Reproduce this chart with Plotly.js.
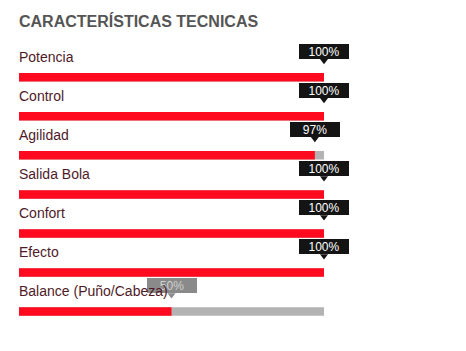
<!DOCTYPE html>
<html>
<head>
<meta charset="utf-8">
<script src="https://cdn.plot.ly/plotly-3.0.1.min.js"></script>
<style>html,body{margin:0;padding:0;background:#fff;}#chart{width:466px;height:351px;}</style>
</head>
<body>
<div id="chart"></div>
<script>
const categories = ["Potencia", "Control", "Agilidad", "Salida Bola", "Confort", "Efecto", "Balance (Puño/Cabeza)"];
const values = [100, 100, 97, 100, 100, 100, 50];
const maxValues = [100, 100, 100, 100, 100, 100, 100];
const tipLabels = ["100%", "100%", "97%", "100%", "100%", "100%", "50%"];
const faded = [false, false, false, false, false, false, true];
const titleText = "CARACTERÍSTICAS TECNICAS";

const W = 466, H = 351;
const rowPx = 39.07, firstCenter = 77.2;
const yTop = -firstCenter / rowPx;
const yBot = (H - firstCenter) / rowPx;
const idx = categories.map((_, i) => i);

const traces = [
  {type: 'bar', orientation: 'h', y: idx, x: maxValues, width: 8.5 / rowPx,
   marker: {color: '#b3b3b3'}, hoverinfo: 'skip'},
  {type: 'bar', orientation: 'h', y: idx, x: values, width: 8.5 / rowPx,
   marker: {color: '#ff0a1e'}, hoverinfo: 'skip'},
  {type: 'scatter', mode: 'markers', x: values, y: idx.map(i => i - 16.5 / rowPx),
   marker: {symbol: 'triangle-down', size: 7, color: faded.map(f => f ? '#8a8a8a' : '#141414')},
   hoverinfo: 'skip', cliponaxis: false}
];

const annotations = [];
idx.forEach(i => {
  annotations.push({
    xref: 'x', yref: 'y', x: values[i], y: i - 25.7 / rowPx,
    xanchor: 'center', yanchor: 'middle', showarrow: false,
    text: tipLabels[i], width: 50, height: 15, borderpad: 0, borderwidth: 0,
    bgcolor: faded[i] ? '#8a8a8a' : '#141414',
    font: {family: 'Liberation Sans, Arial, sans-serif', size: 12, color: faded[i] ? '#d0d0d0' : '#ffffff'}
  });
});
idx.forEach(i => {
  annotations.push({
    xref: 'x', yref: 'y', x: 0, y: i - 20.5 / rowPx,
    xanchor: 'left', yanchor: 'middle', showarrow: false,
    borderpad: 0, borderwidth: 0,
    text: categories[i],
    font: {family: 'Liberation Sans, Arial, sans-serif', size: 14, color: '#4f1a28'}
  });
});

const layout = {
  width: W, height: H,
  margin: {l: 19, r: 142, t: 0, b: 0, pad: 0},
  paper_bgcolor: '#ffffff', plot_bgcolor: '#ffffff',
  showlegend: false, barmode: 'overlay',
  title: {text: '<b>' + titleText + '</b>', x: 19 / W, xanchor: 'left', xref: 'container',
          y: 1 - 21 / H, yanchor: 'middle', yref: 'container',
          font: {family: 'Liberation Sans, Arial, sans-serif', size: 16, color: '#555555'}},
  xaxis: {range: [0, 100], visible: false, fixedrange: true},
  yaxis: {range: [yBot, yTop], visible: false, fixedrange: true},
  annotations: annotations
};

Plotly.newPlot('chart', traces, layout, {staticPlot: true, displayModeBar: false});
</script>
</body>
</html>
